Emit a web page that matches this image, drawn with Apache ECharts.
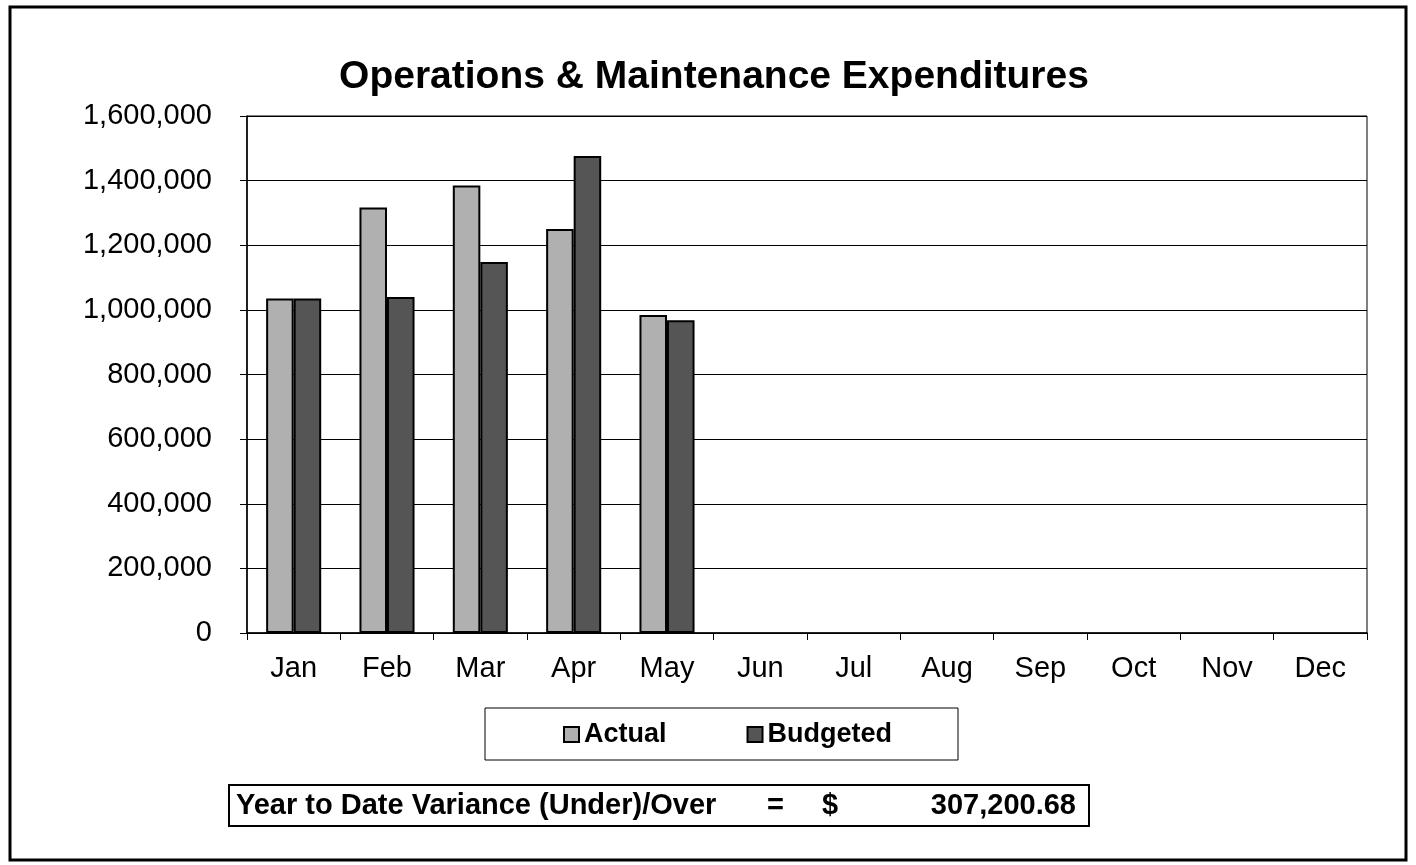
<!DOCTYPE html>
<html>
<head>
<meta charset="utf-8">
<script src="https://cdn.jsdelivr.net/npm/echarts@6/dist/echarts.min.js"></script>
<style>
html,body{margin:0;padding:0;background:#fff;}
#chart{width:1416px;height:865px;}
</style>
</head>
<body>
<div id="chart"></div>
<script>
const titleText = 'Operations & Maintenance Expenditures';
const months = ['Jan','Feb','Mar','Apr','May','Jun','Jul','Aug','Sep','Oct','Nov','Dec'];
const actual = [1035000, 1317000, 1385000, 1250000, 984000, null, null, null, null, null, null, null];
const budgeted = [1035000, 1040000, 1148000, 1476000, 968000, null, null, null, null, null, null, null];
const varianceLabel = 'Year to Date Variance (Under)/Over';
const varianceValue = '307,200.68';

const FONT = '"Liberation Sans", Arial, sans-serif';
const chart = echarts.init(document.getElementById('chart'));
chart.setOption({
  animation: false,
  backgroundColor: '#fff',
  title: {
    text: titleText,
    left: 709, top: 53, textAlign: 'center',
    textStyle: {fontFamily: FONT, fontSize: 39, fontWeight: 'bold', color: '#000'}
  },
  grid: {left: 247, right: 49, top: 116, bottom: 232, show: true, borderColor: '#000', borderWidth: 1, backgroundColor: 'transparent'},
  legend: {
    data: ['Actual', 'Budgeted'],
    left: 485, top: 708,
    orient: 'horizontal',
    padding: [13, 66, 12, 78],
    itemGap: 80,
    itemWidth: 15, itemHeight: 15,
    icon: 'rect',
    borderColor: '#000', borderWidth: 1,
    textStyle: {fontFamily: FONT, fontSize: 27, fontWeight: 'bold', color: '#000', padding: [0,0,0,0]}
  },
  xAxis: {
    type: 'category',
    data: months,
    axisLine: {lineStyle: {color: '#000', width: 1.5}},
    axisTick: {show: true, inside: false, length: 7, lineStyle: {color: '#000'}},
    axisLabel: {fontFamily: FONT, fontSize: 29, color: '#000', margin: 21}
  },
  yAxis: {
    type: 'value',
    min: 0, max: 1600000, interval: 200000,
    axisLine: {show: true, lineStyle: {color: '#000', width: 1.5}},
    axisTick: {show: true, length: 7, lineStyle: {color: '#000'}},
    splitLine: {show: true, lineStyle: {color: '#000', width: 1}},
    axisLabel: {
      fontFamily: FONT, fontSize: 29, color: '#000', margin: 35,
      formatter: v => v.toLocaleString('en-US')
    }
  },
  series: [
    {
      name: 'Actual', type: 'bar', data: actual,
      barGap: '0%', barCategoryGap: '41%',
      itemStyle: {color: '#b0b0b0', borderColor: '#000', borderWidth: 2}
    },
    {
      name: 'Budgeted', type: 'bar', data: budgeted,
      itemStyle: {color: '#555555', borderColor: '#000', borderWidth: 2}
    }
  ],
  graphic: [
    {type: 'rect', shape: {x: 10, y: 7, width: 1396, height: 853}, style: {fill: 'none', stroke: '#000', lineWidth: 3}, silent: true},
    {type: 'rect', shape: {x: 229, y: 785, width: 860, height: 41}, style: {fill: '#fff', stroke: '#000', lineWidth: 2}, silent: true},
    {type: 'text', x: 236, y: 806, style: {text: varianceLabel, font: 'bold 29px ' + FONT, fill: '#000', textVerticalAlign: 'middle'}},
    {type: 'text', x: 767, y: 806, style: {text: '=', font: 'bold 29px ' + FONT, fill: '#000', textVerticalAlign: 'middle'}},
    {type: 'text', x: 822, y: 806, style: {text: '$', font: 'bold 29px ' + FONT, fill: '#000', textVerticalAlign: 'middle'}},
    {type: 'text', x: 1076, y: 806, style: {text: varianceValue, font: 'bold 29px ' + FONT, fill: '#000', textAlign: 'right', textVerticalAlign: 'middle'}}
  ]
});
</script>
</body>
</html>
